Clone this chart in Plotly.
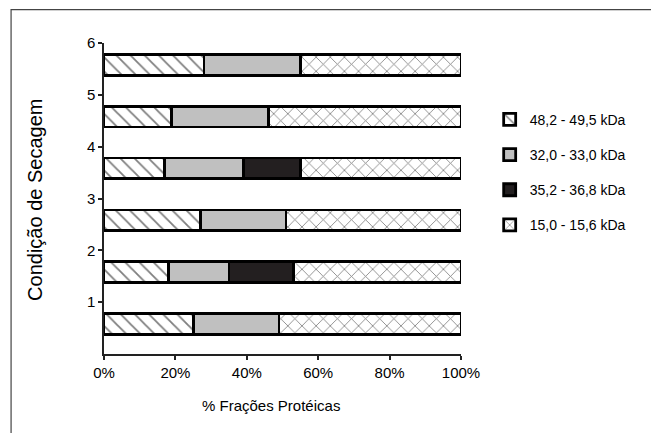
import plotly.graph_objects as go

# Data (rows = Condição de Secagem 1..6, values in % of protein fractions)
conditions = [1, 2, 3, 4, 5, 6]
series_names = ["48,2 - 49,5 kDa", "32,0 - 33,0 kDa", "35,2 - 36,8 kDa", "15,0 - 15,6 kDa"]
frac_48 = [25, 18, 27, 17, 19, 28]
frac_32 = [24, 17, 24, 22, 27, 27]
frac_35 = [None, 18, None, 16, None, None]
frac_15 = [51, 47, 49, 45, 54, 45]
x_ticks = [0, 20, 40, 60, 80, 100]
x_tick_labels = ["0%", "20%", "40%", "60%", "80%", "100%"]
y_ticks = [1, 2, 3, 4, 5, 6]

ypos = [c - 0.42 for c in conditions]

SANS = "Liberation Sans, Arial, sans-serif"

styles = [
    dict(color="white", pattern=dict(shape="\\", fgcolor="black", bgcolor="white", size=10, solidity=0.18, fillmode="overlay")),
    dict(color="#c0c0c0"),
    dict(color="#231f20"),
    dict(color="white", pattern=dict(shape="x", fgcolor="black", bgcolor="white", size=10, solidity=0.16, fillmode="overlay")),
]
values = [frac_48, frac_32, frac_35, frac_15]

fig = go.Figure()
for name, vals, st in zip(series_names, values, styles):
    fig.add_trace(go.Bar(
        x=vals, y=ypos, orientation="h", name=name, width=0.4,
        legendgroup=name,
        marker=dict(line=dict(color="black", width=2.8), **st),
    ))

fig.update_layout(
    width=651, height=433,
    barmode="stack",
    plot_bgcolor="white", paper_bgcolor="white",
    margin=dict(l=104, r=190, t=43, b=79),
    showlegend=True,
    legend=dict(
        x=(490 - 104) / 357.3, xanchor="left",
        y=(354 - 104) / 310.7, yanchor="top",
        traceorder="grouped", tracegroupgap=14,
        font=dict(family=SANS, size=14, color="black"),
        bgcolor="rgba(0,0,0,0)",
    ),
    xaxis=dict(
        range=[0, 100], tickvals=x_ticks, ticktext=x_tick_labels,
        showgrid=False, zeroline=False,
        showline=True, linecolor="#222", linewidth=1.5,
        ticks="outside", ticklen=4, tickcolor="#222", tickwidth=1.5,
        tickfont=dict(family=SANS, size=15, color="black"),
    ),
    yaxis=dict(
        range=[0, 6], tickvals=y_ticks, ticktext=[str(t) for t in y_ticks],
        showgrid=False, zeroline=False,
        showline=True, linecolor="#222", linewidth=1.5,
        ticks="outside", ticklen=4, tickcolor="#222", tickwidth=1.5,
        tickfont=dict(family=SANS, size=15, color="black"),
    ),
    annotations=[
        dict(text="Condição de Secagem", xref="paper", yref="paper",
             x=(35 - 104) / 357.3, y=(354 - 200) / 310.7, textangle=-90,
             showarrow=False, xanchor="center", yanchor="middle",
             font=dict(family=SANS, size=20, color="black")),
        dict(text="% Frações Protéicas", xref="paper", yref="paper",
             x=(271 - 104) / 357.3, y=(354 - 405) / 310.7,
             showarrow=False, xanchor="center", yanchor="middle",
             font=dict(family=SANS, size=15, color="black")),
    ],
    shapes=[
        dict(type="rect", xref="paper", yref="paper",
             x0=(11 - 104) / 357.3, x1=(700 - 104) / 357.3,
             y0=(354 - 480) / 310.7, y1=(354 - 10) / 310.7,
             line=dict(color="#444", width=1.2), fillcolor="rgba(0,0,0,0)", layer="below"),
    ],
)

fig.write_html("out.html", config={"displayModeBar": False},
               post_script="document.body.style.margin='0';document.body.style.overflow='hidden';")
